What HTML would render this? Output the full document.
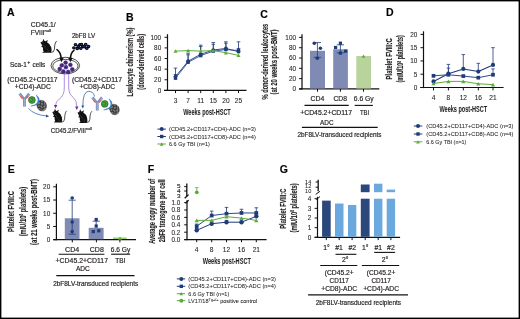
<!DOCTYPE html><html><head><meta charset="utf-8"><style>html,body{margin:0;padding:0;background:#fff;}svg{display:block;will-change:transform;}text{font-family:"Liberation Sans", sans-serif;stroke:#231f20;stroke-width:0.18px;}</style></head><body><svg width="520" height="319" viewBox="0 0 520 319"><rect width="520" height="319" fill="#fff"/><rect x="0" y="0" width="520" height="1.4" fill="#000"/>
<rect x="0" y="0" width="1.4" height="319" fill="#000"/>
<rect x="518.6" y="0" width="1.4" height="319" fill="#000"/>
<rect x="0" y="317.6" width="520" height="1.4" fill="#000"/>
<text x="7.00" y="15.70" font-size="10.5" fill="#000" font-weight="bold">A</text>
<text x="126.00" y="20.90" font-size="10.5" fill="#000" font-weight="bold">B</text>
<text x="260.20" y="18.30" font-size="10.5" fill="#000" font-weight="bold">C</text>
<text x="386.00" y="16.00" font-size="10.5" fill="#000" font-weight="bold">D</text>
<text x="7.70" y="172.70" font-size="10.5" fill="#000" font-weight="bold">E</text>
<text x="147.70" y="172.70" font-size="10.5" fill="#000" font-weight="bold">F</text>
<text x="279.80" y="173.20" font-size="10.5" fill="#000" font-weight="bold">G</text>
<line x1="167.50" y1="34.20" x2="167.50" y2="91.00" stroke="#111" stroke-width="1.2" />
<line x1="164.00" y1="90.40" x2="246.50" y2="90.40" stroke="#111" stroke-width="1.2" />
<line x1="164.60" y1="90.40" x2="167.50" y2="90.40" stroke="#111" stroke-width="1.0" />
<text x="161.20" y="92.70" font-size="6.4" fill="#231f20" text-anchor="end" style="stroke-width:0.08px">0</text>
<line x1="164.60" y1="79.78" x2="167.50" y2="79.78" stroke="#111" stroke-width="1.0" />
<text x="161.20" y="82.08" font-size="6.4" fill="#231f20" text-anchor="end" style="stroke-width:0.08px">20</text>
<line x1="164.60" y1="69.16" x2="167.50" y2="69.16" stroke="#111" stroke-width="1.0" />
<text x="161.20" y="71.46" font-size="6.4" fill="#231f20" text-anchor="end" style="stroke-width:0.08px">40</text>
<line x1="164.60" y1="58.54" x2="167.50" y2="58.54" stroke="#111" stroke-width="1.0" />
<text x="161.20" y="60.84" font-size="6.4" fill="#231f20" text-anchor="end" style="stroke-width:0.08px">60</text>
<line x1="164.60" y1="47.92" x2="167.50" y2="47.92" stroke="#111" stroke-width="1.0" />
<text x="161.20" y="50.22" font-size="6.4" fill="#231f20" text-anchor="end" style="stroke-width:0.08px">80</text>
<line x1="164.60" y1="37.30" x2="167.50" y2="37.30" stroke="#111" stroke-width="1.0" />
<text x="161.20" y="39.60" font-size="6.4" fill="#231f20" text-anchor="end" style="stroke-width:0.08px">100</text>
<line x1="175.50" y1="90.40" x2="175.50" y2="93.10" stroke="#111" stroke-width="1.0" />
<text x="175.50" y="102.50" font-size="6.6" fill="#231f20" text-anchor="middle" style="stroke-width:0.08px">3</text>
<line x1="188.10" y1="90.40" x2="188.10" y2="93.10" stroke="#111" stroke-width="1.0" />
<text x="188.10" y="102.50" font-size="6.6" fill="#231f20" text-anchor="middle" style="stroke-width:0.08px">7</text>
<line x1="200.70" y1="90.40" x2="200.70" y2="93.10" stroke="#111" stroke-width="1.0" />
<text x="200.70" y="102.50" font-size="6.6" fill="#231f20" text-anchor="middle" style="stroke-width:0.08px">11</text>
<line x1="213.30" y1="90.40" x2="213.30" y2="93.10" stroke="#111" stroke-width="1.0" />
<text x="213.30" y="102.50" font-size="6.6" fill="#231f20" text-anchor="middle" style="stroke-width:0.08px">15</text>
<line x1="225.90" y1="90.40" x2="225.90" y2="93.10" stroke="#111" stroke-width="1.0" />
<text x="225.90" y="102.50" font-size="6.6" fill="#231f20" text-anchor="middle" style="stroke-width:0.08px">20</text>
<line x1="238.50" y1="90.40" x2="238.50" y2="93.10" stroke="#111" stroke-width="1.0" />
<text x="238.50" y="102.50" font-size="6.6" fill="#231f20" text-anchor="middle" style="stroke-width:0.08px">25</text>
<text x="207.00" y="114.60" font-size="8.2" fill="#231f20" text-anchor="middle" textLength="47.5" lengthAdjust="spacingAndGlyphs" font-weight="bold" style="stroke-width:0.05px">Weeks post-HSCT</text>
<text transform="translate(132.60,62.00) rotate(-90)" x="0" y="0" font-size="9.73" fill="#231f20" text-anchor="middle" font-weight="bold" style="stroke-width:0.15px" textLength="69" lengthAdjust="spacingAndGlyphs">Leukocyte chimerism (%)</text>
<text transform="translate(144.40,61.80) rotate(-90)" x="0" y="0" font-size="9.73" fill="#231f20" text-anchor="middle" font-weight="bold" style="stroke-width:0.15px" textLength="55.7" lengthAdjust="spacingAndGlyphs">(donor-derived cells)</text>
<line x1="175.50" y1="76.59" x2="175.50" y2="68.10" stroke="#1f3b7a" stroke-width="0.8" />
<line x1="173.70" y1="68.10" x2="177.30" y2="68.10" stroke="#1f3b7a" stroke-width="0.8" />
<line x1="188.10" y1="61.20" x2="188.10" y2="53.23" stroke="#1f3b7a" stroke-width="0.8" />
<line x1="186.30" y1="53.23" x2="189.90" y2="53.23" stroke="#1f3b7a" stroke-width="0.8" />
<line x1="200.70" y1="54.29" x2="200.70" y2="45.11" stroke="#1f3b7a" stroke-width="0.8" />
<line x1="198.90" y1="45.11" x2="202.50" y2="45.11" stroke="#1f3b7a" stroke-width="0.8" />
<line x1="213.30" y1="50.04" x2="213.30" y2="42.50" stroke="#1f3b7a" stroke-width="0.8" />
<line x1="211.50" y1="42.50" x2="215.10" y2="42.50" stroke="#1f3b7a" stroke-width="0.8" />
<line x1="225.90" y1="48.45" x2="225.90" y2="41.81" stroke="#1f3b7a" stroke-width="0.8" />
<line x1="224.10" y1="41.81" x2="227.70" y2="41.81" stroke="#1f3b7a" stroke-width="0.8" />
<line x1="238.50" y1="51.64" x2="238.50" y2="41.81" stroke="#1f3b7a" stroke-width="0.8" />
<line x1="236.70" y1="41.81" x2="240.30" y2="41.81" stroke="#1f3b7a" stroke-width="0.8" />
<line x1="175.50" y1="78.19" x2="175.50" y2="74.47" stroke="#1f3b7a" stroke-width="0.8" />
<line x1="173.70" y1="74.47" x2="177.30" y2="74.47" stroke="#1f3b7a" stroke-width="0.8" />
<line x1="188.10" y1="62.26" x2="188.10" y2="54.82" stroke="#1f3b7a" stroke-width="0.8" />
<line x1="186.30" y1="54.82" x2="189.90" y2="54.82" stroke="#1f3b7a" stroke-width="0.8" />
<line x1="200.70" y1="55.62" x2="200.70" y2="46.49" stroke="#1f3b7a" stroke-width="0.8" />
<line x1="198.90" y1="46.49" x2="202.50" y2="46.49" stroke="#1f3b7a" stroke-width="0.8" />
<line x1="213.30" y1="51.11" x2="213.30" y2="44.31" stroke="#1f3b7a" stroke-width="0.8" />
<line x1="211.50" y1="44.31" x2="215.10" y2="44.31" stroke="#1f3b7a" stroke-width="0.8" />
<line x1="225.90" y1="49.51" x2="225.90" y2="43.19" stroke="#1f3b7a" stroke-width="0.8" />
<line x1="224.10" y1="43.19" x2="227.70" y2="43.19" stroke="#1f3b7a" stroke-width="0.8" />
<line x1="238.50" y1="50.58" x2="238.50" y2="48.45" stroke="#1f3b7a" stroke-width="0.8" />
<line x1="236.70" y1="48.45" x2="240.30" y2="48.45" stroke="#1f3b7a" stroke-width="0.8" />
<polyline points="175.50,76.59 188.10,61.20 200.70,54.29 213.30,50.04 225.90,48.45 238.50,51.64" fill="none" stroke="#1f3b7a" stroke-width="0.9" stroke-linejoin="round"/>
<polyline points="175.50,78.19 188.10,62.26 200.70,55.62 213.30,51.11 225.90,49.51 238.50,50.58" fill="none" stroke="#2a4a8c" stroke-width="0.9" stroke-linejoin="round"/>
<circle cx="175.50" cy="76.59" r="1.9" fill="#1f3b7a"/>
<circle cx="188.10" cy="61.20" r="1.9" fill="#1f3b7a"/>
<circle cx="200.70" cy="54.29" r="1.9" fill="#1f3b7a"/>
<circle cx="213.30" cy="50.04" r="1.9" fill="#1f3b7a"/>
<circle cx="225.90" cy="48.45" r="1.9" fill="#1f3b7a"/>
<circle cx="238.50" cy="51.64" r="1.9" fill="#1f3b7a"/>
<rect x="173.80" y="76.49" width="3.4" height="3.4" fill="#1f3b7a"/>
<rect x="186.40" y="60.56" width="3.4" height="3.4" fill="#1f3b7a"/>
<rect x="199.00" y="53.92" width="3.4" height="3.4" fill="#1f3b7a"/>
<rect x="211.60" y="49.41" width="3.4" height="3.4" fill="#1f3b7a"/>
<rect x="224.20" y="47.81" width="3.4" height="3.4" fill="#1f3b7a"/>
<rect x="236.80" y="48.88" width="3.4" height="3.4" fill="#1f3b7a"/>
<polyline points="175.50,51.11 188.10,50.58 200.70,51.11 213.30,50.58 225.90,52.70 238.50,55.35" fill="none" stroke="#5cab3c" stroke-width="1.0" stroke-linejoin="round"/>
<polygon points="173.50,52.85 177.50,52.85 175.50,49.37" fill="#5cab3c"/>
<polygon points="186.10,52.32 190.10,52.32 188.10,48.84" fill="#5cab3c"/>
<polygon points="198.70,52.85 202.70,52.85 200.70,49.37" fill="#5cab3c"/>
<polygon points="211.30,52.32 215.30,52.32 213.30,48.84" fill="#5cab3c"/>
<polygon points="223.90,54.44 227.90,54.44 225.90,50.96" fill="#5cab3c"/>
<polygon points="236.50,57.09 240.50,57.09 238.50,53.61" fill="#5cab3c"/>
<line x1="157.40" y1="129.10" x2="165.90" y2="129.10" stroke="#1f3b7a" stroke-width="1.0" />
<circle cx="161.70" cy="129.10" r="2.0" fill="#1f3b7a"/>
<text x="169.00" y="131.10" font-size="6.0" fill="#231f20" textLength="86.8" lengthAdjust="spacingAndGlyphs" style="stroke-width:0.06px">(CD45.2+CD117+CD4)-ADC (n=3)</text>
<line x1="157.40" y1="136.50" x2="165.90" y2="136.50" stroke="#1f3b7a" stroke-width="1.0" />
<rect x="160.00" y="134.80" width="3.4" height="3.4" fill="#1f3b7a"/>
<text x="169.00" y="138.50" font-size="6.0" fill="#231f20" textLength="86.8" lengthAdjust="spacingAndGlyphs" style="stroke-width:0.06px">(CD45.2+CD117+CD8)-ADC (n=4)</text>
<line x1="157.40" y1="144.00" x2="165.90" y2="144.00" stroke="#5cab3c" stroke-width="1.0" />
<polygon points="159.80,145.65 163.60,145.65 161.70,142.35" fill="#5cab3c"/>
<text x="169.00" y="146.00" font-size="6.0" fill="#231f20" textLength="40.9" lengthAdjust="spacingAndGlyphs" style="stroke-width:0.06px">6.6 Gy TBI (n=1)</text>
<line x1="302.00" y1="34.20" x2="302.00" y2="89.50" stroke="#111" stroke-width="1.25" />
<line x1="299.00" y1="88.95" x2="379.30" y2="88.95" stroke="#111" stroke-width="1.25" />
<line x1="299.10" y1="88.95" x2="302.00" y2="88.95" stroke="#111" stroke-width="1.0" />
<text x="296.00" y="91.25" font-size="6.4" fill="#231f20" text-anchor="end" style="stroke-width:0.08px">0</text>
<line x1="299.10" y1="78.64" x2="302.00" y2="78.64" stroke="#111" stroke-width="1.0" />
<text x="296.00" y="80.94" font-size="6.4" fill="#231f20" text-anchor="end" style="stroke-width:0.08px">20</text>
<line x1="299.10" y1="68.33" x2="302.00" y2="68.33" stroke="#111" stroke-width="1.0" />
<text x="296.00" y="70.63" font-size="6.4" fill="#231f20" text-anchor="end" style="stroke-width:0.08px">40</text>
<line x1="299.10" y1="58.02" x2="302.00" y2="58.02" stroke="#111" stroke-width="1.0" />
<text x="296.00" y="60.32" font-size="6.4" fill="#231f20" text-anchor="end" style="stroke-width:0.08px">60</text>
<line x1="299.10" y1="47.71" x2="302.00" y2="47.71" stroke="#111" stroke-width="1.0" />
<text x="296.00" y="50.01" font-size="6.4" fill="#231f20" text-anchor="end" style="stroke-width:0.08px">80</text>
<line x1="299.10" y1="37.40" x2="302.00" y2="37.40" stroke="#111" stroke-width="1.0" />
<text x="296.00" y="39.70" font-size="6.4" fill="#231f20" text-anchor="end" style="stroke-width:0.08px">100</text>
<rect x="310.00" y="50.80" width="15.00" height="37.65" fill="#808bb4"/>
<rect x="333.20" y="49.26" width="14.70" height="39.19" fill="#808bb4"/>
<rect x="356.30" y="55.96" width="14.70" height="32.49" fill="#b8d49c"/>
<line x1="317.50" y1="88.95" x2="317.50" y2="91.70" stroke="#111" stroke-width="1.0" />
<line x1="340.40" y1="88.95" x2="340.40" y2="91.70" stroke="#111" stroke-width="1.0" />
<line x1="363.50" y1="88.95" x2="363.50" y2="91.70" stroke="#111" stroke-width="1.0" />
<line x1="317.40" y1="57.30" x2="317.40" y2="42.60" stroke="#1f3b7a" stroke-width="0.8" />
<line x1="313.80" y1="42.60" x2="321.00" y2="42.60" stroke="#1f3b7a" stroke-width="0.8" />
<line x1="313.70" y1="57.30" x2="321.20" y2="57.30" stroke="#1f3b7a" stroke-width="0.8" />
<circle cx="314.30" cy="43.20" r="1.8" fill="#1f3b7a"/>
<circle cx="320.40" cy="48.30" r="1.8" fill="#1f3b7a"/>
<circle cx="317.30" cy="58.30" r="1.8" fill="#1f3b7a"/>
<line x1="340.40" y1="52.80" x2="340.40" y2="44.80" stroke="#1f3b7a" stroke-width="0.8" />
<line x1="336.80" y1="44.80" x2="344.00" y2="44.80" stroke="#1f3b7a" stroke-width="0.8" />
<line x1="336.80" y1="52.80" x2="344.00" y2="52.80" stroke="#1f3b7a" stroke-width="0.8" />
<rect x="338.80" y="41.60" width="3.2" height="3.2" fill="#1f3b7a"/>
<rect x="334.00" y="45.90" width="3.2" height="3.2" fill="#1f3b7a"/>
<rect x="344.00" y="49.60" width="3.2" height="3.2" fill="#1f3b7a"/>
<rect x="338.80" y="51.50" width="3.2" height="3.2" fill="#1f3b7a"/>
<polygon points="361.60,57.85 365.40,57.85 363.50,54.55" fill="#5cab3c"/>
<text transform="translate(267.60,61.60) rotate(-90)" x="0" y="0" font-size="9.47" fill="#231f20" text-anchor="middle" font-weight="bold" style="stroke-width:0.15px" textLength="75.7" lengthAdjust="spacingAndGlyphs">% donor-derived leukocytes</text>
<text transform="translate(276.80,62.00) rotate(-90)" x="0" y="0" font-size="9.47" fill="#231f20" text-anchor="middle" font-weight="bold" style="stroke-width:0.15px" textLength="65" lengthAdjust="spacingAndGlyphs">(at 20 weeks post-BMT)</text>
<text x="317.50" y="100.90" font-size="6.9" fill="#231f20" text-anchor="middle" textLength="13.8" lengthAdjust="spacingAndGlyphs">CD4</text>
<text x="340.20" y="100.90" font-size="6.9" fill="#231f20" text-anchor="middle" textLength="13.5" lengthAdjust="spacingAndGlyphs">CD8</text>
<text x="363.70" y="100.90" font-size="6.9" fill="#231f20" text-anchor="middle" textLength="19.9" lengthAdjust="spacingAndGlyphs">6.6 Gy</text>
<line x1="304.50" y1="105.40" x2="348.70" y2="105.40" stroke="#111" stroke-width="1.1" />
<line x1="354.70" y1="105.40" x2="372.90" y2="105.40" stroke="#111" stroke-width="1.1" />
<text x="326.20" y="114.80" font-size="6.9" fill="#231f20" text-anchor="middle" textLength="51.9" lengthAdjust="spacingAndGlyphs">+CD45.2+CD117</text>
<text x="364.50" y="114.80" font-size="6.9" fill="#231f20" text-anchor="middle" textLength="9.2" lengthAdjust="spacingAndGlyphs">TBI</text>
<text x="326.80" y="125.00" font-size="6.9" fill="#231f20" text-anchor="middle" textLength="13.6" lengthAdjust="spacingAndGlyphs">ADC</text>
<line x1="301.90" y1="127.40" x2="377.70" y2="127.40" stroke="#111" stroke-width="1.1" />
<text x="339.50" y="137.00" font-size="6.3" fill="#231f20" text-anchor="middle" textLength="83.9" lengthAdjust="spacingAndGlyphs">2bF8LV-transduced recipients</text>
<line x1="423.50" y1="31.30" x2="423.50" y2="88.10" stroke="#111" stroke-width="1.2" />
<line x1="420.20" y1="87.50" x2="503.60" y2="87.50" stroke="#111" stroke-width="1.2" />
<line x1="420.50" y1="87.50" x2="423.50" y2="87.50" stroke="#111" stroke-width="1.0" />
<text x="417.30" y="89.80" font-size="6.4" fill="#231f20" text-anchor="end" style="stroke-width:0.08px">0</text>
<line x1="420.50" y1="74.22" x2="423.50" y2="74.22" stroke="#111" stroke-width="1.0" />
<text x="417.30" y="76.52" font-size="6.4" fill="#231f20" text-anchor="end" style="stroke-width:0.08px">5</text>
<line x1="420.50" y1="60.95" x2="423.50" y2="60.95" stroke="#111" stroke-width="1.0" />
<text x="417.30" y="63.25" font-size="6.4" fill="#231f20" text-anchor="end" style="stroke-width:0.08px">10</text>
<line x1="420.50" y1="47.68" x2="423.50" y2="47.68" stroke="#111" stroke-width="1.0" />
<text x="417.30" y="49.98" font-size="6.4" fill="#231f20" text-anchor="end" style="stroke-width:0.08px">15</text>
<line x1="420.50" y1="34.40" x2="423.50" y2="34.40" stroke="#111" stroke-width="1.0" />
<text x="417.30" y="36.70" font-size="6.4" fill="#231f20" text-anchor="end" style="stroke-width:0.08px">20</text>
<line x1="433.50" y1="87.50" x2="433.50" y2="90.40" stroke="#111" stroke-width="1.0" />
<text x="433.50" y="99.90" font-size="6.6" fill="#231f20" text-anchor="middle" style="stroke-width:0.08px">4</text>
<line x1="448.40" y1="87.50" x2="448.40" y2="90.40" stroke="#111" stroke-width="1.0" />
<text x="448.40" y="99.90" font-size="6.6" fill="#231f20" text-anchor="middle" style="stroke-width:0.08px">8</text>
<line x1="463.30" y1="87.50" x2="463.30" y2="90.40" stroke="#111" stroke-width="1.0" />
<text x="463.30" y="99.90" font-size="6.6" fill="#231f20" text-anchor="middle" style="stroke-width:0.08px">12</text>
<line x1="478.30" y1="87.50" x2="478.30" y2="90.40" stroke="#111" stroke-width="1.0" />
<text x="478.30" y="99.90" font-size="6.6" fill="#231f20" text-anchor="middle" style="stroke-width:0.08px">16</text>
<line x1="493.00" y1="87.50" x2="493.00" y2="90.40" stroke="#111" stroke-width="1.0" />
<text x="493.00" y="99.90" font-size="6.6" fill="#231f20" text-anchor="middle" style="stroke-width:0.08px">21</text>
<text x="463.30" y="111.80" font-size="8.2" fill="#231f20" text-anchor="middle" textLength="47.8" lengthAdjust="spacingAndGlyphs" font-weight="bold" style="stroke-width:0.05px">Weeks post-HSCT</text>
<text transform="translate(392.40,58.80) rotate(-90)" x="0" y="0" font-size="9.22" fill="#231f20" text-anchor="middle" font-weight="bold" style="stroke-width:0.15px" textLength="41.2" lengthAdjust="spacingAndGlyphs">Platelet FVIII:C</text>
<text transform="translate(403.20,58.80) rotate(-90)" x="0" y="0" font-size="8.96" fill="#231f20" text-anchor="middle" font-weight="bold" style="stroke-width:0.15px" textLength="47.5" lengthAdjust="spacingAndGlyphs">(mIU/10<tspan dy="-2.6" font-size="4.8">8</tspan><tspan dy="2.6"> platelets)</tspan></text>
<line x1="448.40" y1="73.69" x2="448.40" y2="64.40" stroke="#1f3b7a" stroke-width="0.8" />
<line x1="446.60" y1="64.40" x2="450.20" y2="64.40" stroke="#1f3b7a" stroke-width="0.8" />
<line x1="463.30" y1="68.92" x2="463.30" y2="54.58" stroke="#1f3b7a" stroke-width="0.8" />
<line x1="461.50" y1="54.58" x2="465.10" y2="54.58" stroke="#1f3b7a" stroke-width="0.8" />
<line x1="478.30" y1="71.57" x2="478.30" y2="63.34" stroke="#1f3b7a" stroke-width="0.8" />
<line x1="476.50" y1="63.34" x2="480.10" y2="63.34" stroke="#1f3b7a" stroke-width="0.8" />
<line x1="493.00" y1="64.93" x2="493.00" y2="47.68" stroke="#1f3b7a" stroke-width="0.8" />
<line x1="491.20" y1="47.68" x2="494.80" y2="47.68" stroke="#1f3b7a" stroke-width="0.8" />
<line x1="448.40" y1="74.76" x2="448.40" y2="68.12" stroke="#1f3b7a" stroke-width="0.8" />
<line x1="446.60" y1="68.12" x2="450.20" y2="68.12" stroke="#1f3b7a" stroke-width="0.8" />
<line x1="493.00" y1="74.76" x2="493.00" y2="68.92" stroke="#1f3b7a" stroke-width="0.8" />
<line x1="491.20" y1="68.92" x2="494.80" y2="68.92" stroke="#1f3b7a" stroke-width="0.8" />
<polyline points="433.50,83.52 448.40,81.39 463.30,81.39 478.30,83.78 493.00,84.58" fill="none" stroke="#5cab3c" stroke-width="1.0" stroke-linejoin="round"/>
<polyline points="433.50,81.39 448.40,73.69 463.30,68.92 478.30,71.57 493.00,64.93" fill="none" stroke="#1f3b7a" stroke-width="1.1" stroke-linejoin="round"/>
<polyline points="433.50,75.82 448.40,74.76 463.30,76.08 478.30,77.68 493.00,74.76" fill="none" stroke="#2a4a8c" stroke-width="1.0" stroke-linejoin="round"/>
<circle cx="433.50" cy="81.39" r="2.1" fill="#1f3b7a"/>
<circle cx="448.40" cy="73.69" r="2.1" fill="#1f3b7a"/>
<circle cx="463.30" cy="68.92" r="2.1" fill="#1f3b7a"/>
<circle cx="478.30" cy="71.57" r="2.1" fill="#1f3b7a"/>
<circle cx="493.00" cy="64.93" r="2.1" fill="#1f3b7a"/>
<rect x="431.65" y="73.97" width="3.7" height="3.7" fill="#1f3b7a"/>
<rect x="446.55" y="72.91" width="3.7" height="3.7" fill="#1f3b7a"/>
<rect x="461.45" y="74.23" width="3.7" height="3.7" fill="#1f3b7a"/>
<rect x="476.45" y="75.83" width="3.7" height="3.7" fill="#1f3b7a"/>
<rect x="491.15" y="72.91" width="3.7" height="3.7" fill="#1f3b7a"/>
<polygon points="431.40,85.34 435.60,85.34 433.50,81.69" fill="#5cab3c"/>
<polygon points="446.30,83.22 450.50,83.22 448.40,79.57" fill="#5cab3c"/>
<polygon points="461.20,83.22 465.40,83.22 463.30,79.57" fill="#5cab3c"/>
<polygon points="476.20,85.61 480.40,85.61 478.30,81.96" fill="#5cab3c"/>
<polygon points="490.90,86.41 495.10,86.41 493.00,82.75" fill="#5cab3c"/>
<line x1="413.80" y1="126.00" x2="422.30" y2="126.00" stroke="#1f3b7a" stroke-width="1.0" />
<circle cx="418.00" cy="126.00" r="2.0" fill="#1f3b7a"/>
<text x="426.30" y="128.00" font-size="6.0" fill="#231f20" textLength="87.1" lengthAdjust="spacingAndGlyphs" style="stroke-width:0.06px">(CD45.2+CD117+CD4)-ADC (n=3)</text>
<line x1="413.80" y1="134.00" x2="422.30" y2="134.00" stroke="#1f3b7a" stroke-width="1.0" />
<rect x="416.30" y="132.30" width="3.4" height="3.4" fill="#1f3b7a"/>
<text x="426.30" y="136.00" font-size="6.0" fill="#231f20" textLength="87.1" lengthAdjust="spacingAndGlyphs" style="stroke-width:0.06px">(CD45.2+CD117+CD8)-ADC (n=4)</text>
<line x1="413.80" y1="141.80" x2="422.30" y2="141.80" stroke="#5cab3c" stroke-width="1.0" />
<polygon points="416.10,143.45 419.90,143.45 418.00,140.15" fill="#5cab3c"/>
<text x="426.30" y="143.80" font-size="6.0" fill="#231f20" textLength="40.1" lengthAdjust="spacingAndGlyphs" style="stroke-width:0.06px">6.6 Gy TBI (n=1)</text>
<line x1="56.40" y1="183.80" x2="56.40" y2="240.30" stroke="#111" stroke-width="1.2" />
<line x1="53.20" y1="239.70" x2="136.00" y2="239.70" stroke="#111" stroke-width="1.2" />
<line x1="53.20" y1="239.70" x2="56.40" y2="239.70" stroke="#111" stroke-width="1.0" />
<text x="50.20" y="242.00" font-size="6.4" fill="#231f20" text-anchor="end" style="stroke-width:0.08px">0</text>
<line x1="53.20" y1="226.47" x2="56.40" y2="226.47" stroke="#111" stroke-width="1.0" />
<text x="50.20" y="228.78" font-size="6.4" fill="#231f20" text-anchor="end" style="stroke-width:0.08px">5</text>
<line x1="53.20" y1="213.25" x2="56.40" y2="213.25" stroke="#111" stroke-width="1.0" />
<text x="50.20" y="215.55" font-size="6.4" fill="#231f20" text-anchor="end" style="stroke-width:0.08px">10</text>
<line x1="53.20" y1="200.02" x2="56.40" y2="200.02" stroke="#111" stroke-width="1.0" />
<text x="50.20" y="202.32" font-size="6.4" fill="#231f20" text-anchor="end" style="stroke-width:0.08px">15</text>
<line x1="53.20" y1="186.80" x2="56.40" y2="186.80" stroke="#111" stroke-width="1.0" />
<text x="50.20" y="189.10" font-size="6.4" fill="#231f20" text-anchor="end" style="stroke-width:0.08px">20</text>
<rect x="64.80" y="218.28" width="14.70" height="20.92" fill="#808bb4"/>
<rect x="88.70" y="227.80" width="14.90" height="11.40" fill="#808bb4"/>
<rect x="113.00" y="237.50" width="13.60" height="1.40" fill="#8fce5c"/>
<line x1="72.30" y1="239.70" x2="72.30" y2="242.40" stroke="#111" stroke-width="1.0" />
<line x1="96.40" y1="239.70" x2="96.40" y2="242.40" stroke="#111" stroke-width="1.0" />
<line x1="119.90" y1="239.70" x2="119.90" y2="242.40" stroke="#111" stroke-width="1.0" />
<line x1="72.20" y1="234.20" x2="72.20" y2="200.20" stroke="#1f3b7a" stroke-width="0.8" />
<line x1="68.60" y1="200.20" x2="75.80" y2="200.20" stroke="#1f3b7a" stroke-width="0.8" />
<line x1="68.60" y1="234.20" x2="75.80" y2="234.20" stroke="#1f3b7a" stroke-width="0.8" />
<circle cx="72.20" cy="198.00" r="1.8" fill="#1f3b7a"/>
<circle cx="72.20" cy="222.00" r="1.8" fill="#1f3b7a"/>
<circle cx="72.20" cy="231.50" r="1.8" fill="#1f3b7a"/>
<line x1="96.20" y1="221.20" x2="96.20" y2="228.00" stroke="#1f3b7a" stroke-width="0.8" />
<line x1="92.60" y1="221.20" x2="99.80" y2="221.20" stroke="#1f3b7a" stroke-width="0.8" />
<rect x="94.60" y="217.90" width="3.2" height="3.2" fill="#1f3b7a"/>
<rect x="94.60" y="224.40" width="3.2" height="3.2" fill="#1f3b7a"/>
<rect x="91.70" y="230.00" width="3.2" height="3.2" fill="#1f3b7a"/>
<rect x="97.20" y="229.20" width="3.2" height="3.2" fill="#1f3b7a"/>
<polygon points="118.10,239.85 121.90,239.85 120.00,236.55" fill="#5cab3c"/>
<text transform="translate(14.00,211.50) rotate(-90)" x="0" y="0" font-size="9.22" fill="#231f20" text-anchor="middle" font-weight="bold" style="stroke-width:0.15px" textLength="40.9" lengthAdjust="spacingAndGlyphs">Platelet FVIII:C</text>
<text transform="translate(25.60,211.60) rotate(-90)" x="0" y="0" font-size="8.96" fill="#231f20" text-anchor="middle" font-weight="bold" style="stroke-width:0.15px" textLength="49.5" lengthAdjust="spacingAndGlyphs">(mIU/10<tspan dy="-2.6" font-size="4.8">8</tspan><tspan dy="2.6"> platelets)</tspan></text>
<text transform="translate(36.60,211.90) rotate(-90)" x="0" y="0" font-size="9.22" fill="#231f20" text-anchor="middle" font-weight="bold" style="stroke-width:0.15px" textLength="66" lengthAdjust="spacingAndGlyphs">(at 21 weeks post-BMT)</text>
<text x="72.20" y="251.80" font-size="6.9" fill="#231f20" text-anchor="middle" textLength="14.2" lengthAdjust="spacingAndGlyphs">CD4</text>
<text x="96.80" y="251.80" font-size="6.9" fill="#231f20" text-anchor="middle" textLength="14.0" lengthAdjust="spacingAndGlyphs">CD8</text>
<text x="120.50" y="251.80" font-size="6.9" fill="#231f20" text-anchor="middle" textLength="19.5" lengthAdjust="spacingAndGlyphs">6.6 Gy</text>
<line x1="58.70" y1="254.20" x2="104.40" y2="254.20" stroke="#111" stroke-width="1.1" />
<line x1="111.10" y1="254.20" x2="130.10" y2="254.20" stroke="#111" stroke-width="1.1" />
<text x="81.80" y="263.30" font-size="6.9" fill="#231f20" text-anchor="middle" textLength="52.4" lengthAdjust="spacingAndGlyphs">+CD45.2+CD117</text>
<text x="120.30" y="263.30" font-size="6.9" fill="#231f20" text-anchor="middle" textLength="10.1" lengthAdjust="spacingAndGlyphs">TBI</text>
<text x="82.90" y="271.20" font-size="6.9" fill="#231f20" text-anchor="middle" textLength="13.8" lengthAdjust="spacingAndGlyphs">ADC</text>
<line x1="56.30" y1="275.60" x2="134.50" y2="275.60" stroke="#111" stroke-width="1.1" />
<text x="95.70" y="285.70" font-size="6.3" fill="#231f20" text-anchor="middle" textLength="85.0" lengthAdjust="spacingAndGlyphs">2bF8LV-transduced recipients</text>
<line x1="187.00" y1="200.30" x2="187.00" y2="240.20" stroke="#111" stroke-width="1.25" />
<line x1="184.20" y1="239.60" x2="266.60" y2="239.60" stroke="#111" stroke-width="1.25" />
<line x1="184.20" y1="239.60" x2="187.00" y2="239.60" stroke="#111" stroke-width="1.0" />
<text x="180.30" y="241.90" font-size="6.4" fill="#231f20" text-anchor="end" style="stroke-width:0.08px">0.0</text>
<line x1="184.20" y1="232.20" x2="187.00" y2="232.20" stroke="#111" stroke-width="1.0" />
<text x="180.30" y="234.50" font-size="6.4" fill="#231f20" text-anchor="end" style="stroke-width:0.08px">0.2</text>
<line x1="184.20" y1="224.80" x2="187.00" y2="224.80" stroke="#111" stroke-width="1.0" />
<text x="180.30" y="227.10" font-size="6.4" fill="#231f20" text-anchor="end" style="stroke-width:0.08px">0.4</text>
<line x1="184.20" y1="217.40" x2="187.00" y2="217.40" stroke="#111" stroke-width="1.0" />
<text x="180.30" y="219.70" font-size="6.4" fill="#231f20" text-anchor="end" style="stroke-width:0.08px">0.6</text>
<line x1="184.20" y1="210.00" x2="187.00" y2="210.00" stroke="#111" stroke-width="1.0" />
<text x="180.30" y="212.30" font-size="6.4" fill="#231f20" text-anchor="end" style="stroke-width:0.08px">0.8</text>
<line x1="184.20" y1="202.60" x2="187.00" y2="202.60" stroke="#111" stroke-width="1.0" />
<text x="180.30" y="204.90" font-size="6.4" fill="#231f20" text-anchor="end" style="stroke-width:0.08px">1.0</text>
<line x1="186.80" y1="183.60" x2="186.80" y2="196.60" stroke="#111" stroke-width="1.3" />
<line x1="184.20" y1="186.60" x2="186.80" y2="186.60" stroke="#111" stroke-width="1.0" />
<line x1="184.20" y1="191.00" x2="186.80" y2="191.00" stroke="#111" stroke-width="1.0" />
<text x="178.8" y="235.38" font-size="6.4" fill="#231f20" text-anchor="middle" transform="scale(1,0.8)">5</text>
<text x="178.8" y="240.75" font-size="6.4" fill="#231f20" text-anchor="middle" transform="scale(1,0.8)">4</text>
<text x="178.8" y="247.12" font-size="6.4" fill="#231f20" text-anchor="middle" transform="scale(1,0.8)">3</text>
<line x1="184.70" y1="198.30" x2="188.60" y2="194.60" stroke="#111" stroke-width="1.3" />
<line x1="185.50" y1="203.40" x2="188.60" y2="200.30" stroke="#111" stroke-width="1.3" />
<line x1="196.70" y1="239.60" x2="196.70" y2="242.20" stroke="#111" stroke-width="1.0" />
<text x="196.70" y="251.90" font-size="6.6" fill="#231f20" text-anchor="middle" style="stroke-width:0.08px">4</text>
<line x1="211.70" y1="239.60" x2="211.70" y2="242.20" stroke="#111" stroke-width="1.0" />
<text x="211.70" y="251.90" font-size="6.6" fill="#231f20" text-anchor="middle" style="stroke-width:0.08px">8</text>
<line x1="226.50" y1="239.60" x2="226.50" y2="242.20" stroke="#111" stroke-width="1.0" />
<text x="226.50" y="251.90" font-size="6.6" fill="#231f20" text-anchor="middle" style="stroke-width:0.08px">12</text>
<line x1="241.50" y1="239.60" x2="241.50" y2="242.20" stroke="#111" stroke-width="1.0" />
<text x="241.50" y="251.90" font-size="6.6" fill="#231f20" text-anchor="middle" style="stroke-width:0.08px">16</text>
<line x1="256.30" y1="239.60" x2="256.30" y2="242.20" stroke="#111" stroke-width="1.0" />
<text x="256.30" y="251.90" font-size="6.6" fill="#231f20" text-anchor="middle" style="stroke-width:0.08px">21</text>
<text x="226.80" y="264.40" font-size="8.2" fill="#231f20" text-anchor="middle" textLength="48.1" lengthAdjust="spacingAndGlyphs" font-weight="bold" style="stroke-width:0.05px">Weeks post-HSCT</text>
<text transform="translate(155.00,211.30) rotate(-90)" x="0" y="0" font-size="9.22" fill="#231f20" text-anchor="middle" font-weight="bold" style="stroke-width:0.15px" textLength="65" lengthAdjust="spacingAndGlyphs">Average copy number of</text>
<text transform="translate(165.10,210.80) rotate(-90)" x="0" y="0" font-size="9.22" fill="#231f20" text-anchor="middle" font-weight="bold" style="stroke-width:0.15px" textLength="62.7" lengthAdjust="spacingAndGlyphs">2bF8 transgene per cell</text>
<line x1="196.70" y1="226.28" x2="196.70" y2="224.06" stroke="#1f3b7a" stroke-width="0.8" />
<line x1="194.90" y1="224.06" x2="198.50" y2="224.06" stroke="#1f3b7a" stroke-width="0.8" />
<line x1="211.70" y1="215.55" x2="211.70" y2="211.11" stroke="#1f3b7a" stroke-width="0.8" />
<line x1="209.90" y1="211.11" x2="213.50" y2="211.11" stroke="#1f3b7a" stroke-width="0.8" />
<line x1="226.50" y1="213.70" x2="226.50" y2="207.41" stroke="#1f3b7a" stroke-width="0.8" />
<line x1="224.70" y1="207.41" x2="228.30" y2="207.41" stroke="#1f3b7a" stroke-width="0.8" />
<line x1="241.50" y1="212.96" x2="241.50" y2="209.26" stroke="#1f3b7a" stroke-width="0.8" />
<line x1="239.70" y1="209.26" x2="243.30" y2="209.26" stroke="#1f3b7a" stroke-width="0.8" />
<line x1="256.30" y1="212.96" x2="256.30" y2="207.78" stroke="#1f3b7a" stroke-width="0.8" />
<line x1="254.50" y1="207.78" x2="258.10" y2="207.78" stroke="#1f3b7a" stroke-width="0.8" />
<line x1="196.70" y1="230.35" x2="196.70" y2="228.50" stroke="#1f3b7a" stroke-width="0.8" />
<line x1="194.90" y1="228.50" x2="198.50" y2="228.50" stroke="#1f3b7a" stroke-width="0.8" />
<line x1="211.70" y1="223.69" x2="211.70" y2="221.10" stroke="#1f3b7a" stroke-width="0.8" />
<line x1="209.90" y1="221.10" x2="213.50" y2="221.10" stroke="#1f3b7a" stroke-width="0.8" />
<line x1="226.50" y1="222.21" x2="226.50" y2="220.36" stroke="#1f3b7a" stroke-width="0.8" />
<line x1="224.70" y1="220.36" x2="228.30" y2="220.36" stroke="#1f3b7a" stroke-width="0.8" />
<line x1="241.50" y1="222.21" x2="241.50" y2="221.10" stroke="#1f3b7a" stroke-width="0.8" />
<line x1="239.70" y1="221.10" x2="243.30" y2="221.10" stroke="#1f3b7a" stroke-width="0.8" />
<line x1="256.30" y1="216.29" x2="256.30" y2="213.70" stroke="#1f3b7a" stroke-width="0.8" />
<line x1="254.50" y1="213.70" x2="258.10" y2="213.70" stroke="#1f3b7a" stroke-width="0.8" />
<polyline points="196.70,230.35 211.70,223.69 226.50,222.21 241.50,222.21 256.30,216.29" fill="none" stroke="#1f3b7a" stroke-width="1.0" stroke-linejoin="round"/>
<polyline points="196.70,226.28 211.70,215.55 226.50,213.70 241.50,212.96 256.30,212.96" fill="none" stroke="#2a4a8c" stroke-width="1.0" stroke-linejoin="round"/>
<circle cx="196.70" cy="230.35" r="2.2" fill="#1f3b7a"/>
<circle cx="211.70" cy="223.69" r="2.2" fill="#1f3b7a"/>
<circle cx="226.50" cy="222.21" r="2.2" fill="#1f3b7a"/>
<circle cx="241.50" cy="222.21" r="2.2" fill="#1f3b7a"/>
<circle cx="256.30" cy="216.29" r="2.2" fill="#1f3b7a"/>
<rect x="194.85" y="224.43" width="3.7" height="3.7" fill="#1f3b7a"/>
<rect x="209.85" y="213.70" width="3.7" height="3.7" fill="#1f3b7a"/>
<rect x="224.65" y="211.85" width="3.7" height="3.7" fill="#1f3b7a"/>
<rect x="239.65" y="211.11" width="3.7" height="3.7" fill="#1f3b7a"/>
<rect x="254.45" y="211.11" width="3.7" height="3.7" fill="#1f3b7a"/>
<polyline points="196.70,220.36 211.70,220.36 226.50,216.66 241.50,218.14 256.30,220.36" fill="none" stroke="#5cab3c" stroke-width="1.0" stroke-linejoin="round"/>
<polygon points="194.55,222.23 198.85,222.23 196.70,218.49" fill="#5cab3c"/>
<polygon points="209.55,222.23 213.85,222.23 211.70,218.49" fill="#5cab3c"/>
<polygon points="224.35,218.53 228.65,218.53 226.50,214.79" fill="#5cab3c"/>
<polygon points="239.35,220.01 243.65,220.01 241.50,216.27" fill="#5cab3c"/>
<polygon points="254.15,222.23 258.45,222.23 256.30,218.49" fill="#5cab3c"/>
<line x1="196.80" y1="192.30" x2="196.80" y2="187.60" stroke="#5cab3c" stroke-width="0.8" />
<line x1="195.00" y1="187.60" x2="198.60" y2="187.60" stroke="#5cab3c" stroke-width="0.8" />
<circle cx="196.80" cy="192.30" r="1.9" fill="#5cab3c"/>
<line x1="176.80" y1="278.90" x2="185.20" y2="278.90" stroke="#1f3b7a" stroke-width="1.0" />
<circle cx="181.30" cy="278.90" r="2.0" fill="#1f3b7a"/>
<text x="188.30" y="280.90" font-size="6.0" fill="#231f20" textLength="87.6" lengthAdjust="spacingAndGlyphs" style="stroke-width:0.06px">(CD45.2+CD117+CD4)-ADC (n=3)</text>
<line x1="176.80" y1="286.30" x2="185.20" y2="286.30" stroke="#1f3b7a" stroke-width="1.0" />
<rect x="179.60" y="284.60" width="3.4" height="3.4" fill="#1f3b7a"/>
<text x="188.30" y="288.30" font-size="6.0" fill="#231f20" textLength="87.6" lengthAdjust="spacingAndGlyphs" style="stroke-width:0.06px">(CD45.2+CD117+CD8)-ADC (n=4)</text>
<line x1="176.80" y1="293.70" x2="185.20" y2="293.70" stroke="#5cab3c" stroke-width="1.0" />
<polygon points="179.40,295.35 183.20,295.35 181.30,292.05" fill="#5cab3c"/>
<text x="188.30" y="295.70" font-size="6.0" fill="#231f20" textLength="41.0" lengthAdjust="spacingAndGlyphs" style="stroke-width:0.06px">6.6 Gy TBI (n=1)</text>
<line x1="176.80" y1="300.70" x2="185.20" y2="300.70" stroke="#5cab3c" stroke-width="1.0" />
<circle cx="181.30" cy="300.70" r="2.0" fill="#5cab3c"/>
<text x="188.3" y="302.7" font-size="6.0" fill="#231f20" style="stroke-width:0.06px" textLength="68.8" lengthAdjust="spacingAndGlyphs">LV17/18<tspan dy="-2.2" font-size="4.2">Tg+/+</tspan><tspan dy="2.2"> positive control</tspan></text>
<line x1="317.50" y1="196.80" x2="317.50" y2="237.90" stroke="#111" stroke-width="1.2" />
<line x1="314.60" y1="237.30" x2="400.10" y2="237.30" stroke="#111" stroke-width="1.2" />
<line x1="314.60" y1="237.30" x2="317.50" y2="237.30" stroke="#111" stroke-width="1.0" />
<text x="311.30" y="239.60" font-size="6.4" fill="#231f20" text-anchor="end" style="stroke-width:0.08px">0</text>
<line x1="314.60" y1="227.65" x2="317.50" y2="227.65" stroke="#111" stroke-width="1.0" />
<text x="311.30" y="229.95" font-size="6.4" fill="#231f20" text-anchor="end" style="stroke-width:0.08px">1</text>
<line x1="314.60" y1="218.00" x2="317.50" y2="218.00" stroke="#111" stroke-width="1.0" />
<text x="311.30" y="220.30" font-size="6.4" fill="#231f20" text-anchor="end" style="stroke-width:0.08px">2</text>
<line x1="314.60" y1="208.35" x2="317.50" y2="208.35" stroke="#111" stroke-width="1.0" />
<text x="311.30" y="210.65" font-size="6.4" fill="#231f20" text-anchor="end" style="stroke-width:0.08px">3</text>
<line x1="314.60" y1="198.70" x2="317.50" y2="198.70" stroke="#111" stroke-width="1.0" />
<text x="311.30" y="201.00" font-size="6.4" fill="#231f20" text-anchor="end" style="stroke-width:0.08px">4</text>
<line x1="318.20" y1="179.80" x2="318.20" y2="191.30" stroke="#111" stroke-width="1.3" />
<line x1="315.60" y1="182.00" x2="318.20" y2="182.00" stroke="#111" stroke-width="1.0" />
<line x1="315.60" y1="187.20" x2="318.20" y2="187.20" stroke="#111" stroke-width="1.0" />
<text x="308.2" y="214.30" font-size="5.6" fill="#231f20" text-anchor="middle" transform="scale(1,0.86)" style="stroke-width:0.05px">14</text>
<text x="308.2" y="219.07" font-size="5.6" fill="#231f20" text-anchor="middle" transform="scale(1,0.86)" style="stroke-width:0.05px">12</text>
<text x="308.2" y="223.95" font-size="5.6" fill="#231f20" text-anchor="middle" transform="scale(1,0.86)" style="stroke-width:0.05px">10</text>
<line x1="315.70" y1="194.40" x2="320.00" y2="191.30" stroke="#111" stroke-width="1.0" />
<line x1="316.30" y1="199.50" x2="320.00" y2="196.60" stroke="#111" stroke-width="1.0" />
<rect x="322.10" y="200.63" width="8.60" height="36.17" fill="#2b487d"/>
<rect x="335.00" y="203.53" width="8.50" height="33.28" fill="#6aa8de"/>
<rect x="348.00" y="204.97" width="8.30" height="31.83" fill="#6aa8de"/>
<rect x="360.80" y="198.70" width="8.80" height="38.10" fill="#2b487d"/>
<rect x="360.80" y="184.50" width="8.80" height="7.70" fill="#2b487d"/>
<rect x="374.00" y="198.70" width="8.40" height="38.10" fill="#6aa8de"/>
<rect x="374.00" y="183.70" width="8.40" height="8.50" fill="#6aa8de"/>
<rect x="386.70" y="198.70" width="8.40" height="38.10" fill="#6aa8de"/>
<rect x="386.70" y="189.60" width="8.40" height="2.60" fill="#6aa8de"/>
<line x1="326.30" y1="237.30" x2="326.30" y2="240.10" stroke="#111" stroke-width="1.0" />
<line x1="339.20" y1="237.30" x2="339.20" y2="240.10" stroke="#111" stroke-width="1.0" />
<line x1="352.10" y1="237.30" x2="352.10" y2="240.10" stroke="#111" stroke-width="1.0" />
<line x1="365.20" y1="237.30" x2="365.20" y2="240.10" stroke="#111" stroke-width="1.0" />
<line x1="378.20" y1="237.30" x2="378.20" y2="240.10" stroke="#111" stroke-width="1.0" />
<line x1="390.90" y1="237.30" x2="390.90" y2="240.10" stroke="#111" stroke-width="1.0" />
<text x="326.60" y="249.80" font-size="6.8" fill="#231f20" text-anchor="middle">1°</text>
<text x="339.00" y="249.80" font-size="6.8" fill="#231f20" text-anchor="middle">#1</text>
<text x="352.20" y="249.80" font-size="6.8" fill="#231f20" text-anchor="middle">#2</text>
<text x="365.20" y="249.80" font-size="6.8" fill="#231f20" text-anchor="middle">1°</text>
<text x="378.20" y="249.80" font-size="6.8" fill="#231f20" text-anchor="middle">#1</text>
<text x="390.90" y="249.80" font-size="6.8" fill="#231f20" text-anchor="middle">#2</text>
<line x1="335.50" y1="254.30" x2="356.40" y2="254.30" stroke="#111" stroke-width="1.1" />
<line x1="374.20" y1="252.40" x2="395.10" y2="252.40" stroke="#111" stroke-width="1.1" />
<text x="345.30" y="261.60" font-size="6.8" fill="#231f20" text-anchor="middle">2°</text>
<text x="384.90" y="261.60" font-size="6.8" fill="#231f20" text-anchor="middle">2°</text>
<line x1="320.20" y1="265.50" x2="357.30" y2="265.50" stroke="#111" stroke-width="1.1" />
<line x1="361.90" y1="265.50" x2="399.20" y2="265.50" stroke="#111" stroke-width="1.1" />
<text x="339.20" y="274.90" font-size="6.9" fill="#231f20" text-anchor="middle" textLength="29.0" lengthAdjust="spacingAndGlyphs">(CD45.2+</text>
<text x="339.20" y="282.50" font-size="6.9" fill="#231f20" text-anchor="middle" textLength="19.2" lengthAdjust="spacingAndGlyphs">CD117</text>
<text x="339.20" y="290.90" font-size="6.9" fill="#231f20" text-anchor="middle" textLength="35.8" lengthAdjust="spacingAndGlyphs">+CD8)-ADC</text>
<text x="381.10" y="274.90" font-size="6.9" fill="#231f20" text-anchor="middle" textLength="28.5" lengthAdjust="spacingAndGlyphs">(CD45.2+</text>
<text x="381.10" y="282.50" font-size="6.9" fill="#231f20" text-anchor="middle" textLength="19.4" lengthAdjust="spacingAndGlyphs">CD117</text>
<text x="381.10" y="290.90" font-size="6.9" fill="#231f20" text-anchor="middle" textLength="35.8" lengthAdjust="spacingAndGlyphs">+CD4)-ADC</text>
<line x1="308.10" y1="294.90" x2="408.00" y2="294.90" stroke="#111" stroke-width="1.1" />
<text x="358.40" y="304.60" font-size="6.3" fill="#231f20" text-anchor="middle" textLength="85.4" lengthAdjust="spacingAndGlyphs">2bF8LV-transduced recipients</text>
<text transform="translate(285.90,208.70) rotate(-90)" x="0" y="0" font-size="9.22" fill="#231f20" text-anchor="middle" font-weight="bold" style="stroke-width:0.15px" textLength="40.2" lengthAdjust="spacingAndGlyphs">Platelet FVIII:C</text>
<text transform="translate(296.60,207.90) rotate(-90)" x="0" y="0" font-size="8.96" fill="#231f20" text-anchor="middle" font-weight="bold" style="stroke-width:0.15px" textLength="49.2" lengthAdjust="spacingAndGlyphs">(mIU/10<tspan dy="-2.6" font-size="4.8">8</tspan><tspan dy="2.6"> platelets)</tspan></text>
<text x="30.70" y="27.00" font-size="6.6" fill="#231f20" textLength="25.1" lengthAdjust="spacingAndGlyphs">CD45.1/</text>
<text x="30.7" y="34.9" font-size="6.6" fill="#231f20">FVIII<tspan dy="-2.6" font-size="4.0">null</tspan></text>
<text x="71.90" y="38.00" font-size="6.4" fill="#231f20" textLength="23.2" lengthAdjust="spacingAndGlyphs">2bF8 LV</text>
<text x="10" y="66.9" font-size="6.5" fill="#231f20" textLength="35.3" lengthAdjust="spacingAndGlyphs">Sca-1<tspan dx="0.8" dy="-3.0" font-size="4.6">+</tspan><tspan dx="0.4" dy="3.0"> cells</tspan></text>
<text x="7.30" y="82.00" font-size="6.6" fill="#231f20" textLength="50.4" lengthAdjust="spacingAndGlyphs">(CD45.2+CD117</text>
<text x="14.80" y="89.20" font-size="6.6" fill="#231f20" textLength="36.0" lengthAdjust="spacingAndGlyphs">+CD4)-ADC</text>
<text x="71.90" y="81.70" font-size="6.6" fill="#231f20" textLength="50.2" lengthAdjust="spacingAndGlyphs">(CD45.2+CD117</text>
<text x="79.40" y="89.20" font-size="6.6" fill="#231f20" textLength="35.8" lengthAdjust="spacingAndGlyphs">+CD8)-ADC</text>
<text x="50.8" y="132.5" font-size="6.6" fill="#231f20" textLength="41" lengthAdjust="spacingAndGlyphs">CD45.2/FVIII<tspan dy="-2.6" font-size="4.0">null</tspan></text>
<g transform="translate(40.06,39.0) scale(1.14,1.02)"><path d="M0.3,3.4 L2.3,2.1 L2.9,-0.3 L3.9,1.9 L4.7,2.1 L6.9,0.9 L6.1,3.1 Q9.0,4.7 9.9,8.4 Q10.6,11.6 9.6,13.5 L2.0,13.5 L2.2,12.9 L3.2,12.5 Q2.3,10.4 2.6,8.4 L0.8,7.6 L2.0,6.9 Q1.4,5.2 0.3,3.4 Z" fill="#111"/><path d="M2.4,5.6 Q4.6,6.6 5.2,9.6 M6.4,9.8 Q7.6,11.4 7.0,12.8" fill="none" stroke="#555" stroke-width="0.45"/><circle cx="2.3" cy="3.4" r="0.35" fill="#777"/><path d="M9.4,13.2 Q12.5,13.4 12.6,10.0 Q12.7,6.0 13.4,4.0 Q13.8,2.8 14.5,2.1" fill="none" stroke="#2a2a2a" stroke-width="0.8" stroke-linecap="round"/></g>
<g transform="translate(52.0,108.9)"><path d="M0.3,3.4 L2.3,2.1 L2.9,-0.3 L3.9,1.9 L4.7,2.1 L6.9,0.9 L6.1,3.1 Q9.0,4.7 9.9,8.4 Q10.6,11.6 9.6,13.5 L2.0,13.5 L2.2,12.9 L3.2,12.5 Q2.3,10.4 2.6,8.4 L0.8,7.6 L2.0,6.9 Q1.4,5.2 0.3,3.4 Z" fill="#111"/><path d="M2.4,5.6 Q4.6,6.6 5.2,9.6 M6.4,9.8 Q7.6,11.4 7.0,12.8" fill="none" stroke="#555" stroke-width="0.45"/><circle cx="2.3" cy="3.4" r="0.35" fill="#777"/><path d="M9.4,13.2 Q12.5,13.4 12.6,10.0 Q12.7,6.0 13.4,4.0 Q13.8,2.8 14.5,2.1" fill="none" stroke="#2a2a2a" stroke-width="0.8" stroke-linecap="round"/></g>
<g transform="translate(77.2,109.4)"><path d="M0.3,3.4 L2.3,2.1 L2.9,-0.3 L3.9,1.9 L4.7,2.1 L6.9,0.9 L6.1,3.1 Q9.0,4.7 9.9,8.4 Q10.6,11.6 9.6,13.5 L2.0,13.5 L2.2,12.9 L3.2,12.5 Q2.3,10.4 2.6,8.4 L0.8,7.6 L2.0,6.9 Q1.4,5.2 0.3,3.4 Z" fill="#111"/><path d="M2.4,5.6 Q4.6,6.6 5.2,9.6 M6.4,9.8 Q7.6,11.4 7.0,12.8" fill="none" stroke="#555" stroke-width="0.45"/><circle cx="2.3" cy="3.4" r="0.35" fill="#777"/><path d="M9.4,13.2 Q12.5,13.4 12.6,10.0 Q12.7,6.0 13.4,4.0 Q13.8,2.8 14.5,2.1" fill="none" stroke="#2a2a2a" stroke-width="0.8" stroke-linecap="round"/></g>
<ellipse cx="65.3" cy="65.6" rx="14.3" ry="8.3" fill="#fff" stroke="#111" stroke-width="0.75"/>
<ellipse cx="65.4" cy="66.0" rx="12.7" ry="6.6" fill="none" stroke="#111" stroke-width="0.7"/>
<circle cx="65.6" cy="62.6" r="1.9" fill="#5a1f70" stroke="#2b2f90" stroke-width="0.6"/>
<circle cx="70.4" cy="64.8" r="1.9" fill="#5a1f70" stroke="#2b2f90" stroke-width="0.6"/>
<circle cx="61.8" cy="65.3" r="1.9" fill="#5a1f70" stroke="#2b2f90" stroke-width="0.6"/>
<circle cx="65.9" cy="67.2" r="1.9" fill="#5a1f70" stroke="#2b2f90" stroke-width="0.6"/>
<circle cx="72.3" cy="69.3" r="1.9" fill="#5a1f70" stroke="#2b2f90" stroke-width="0.6"/>
<circle cx="59.7" cy="69.0" r="1.9" fill="#5a1f70" stroke="#2b2f90" stroke-width="0.6"/>
<circle cx="63.4" cy="71.5" r="1.9" fill="#5a1f70" stroke="#2b2f90" stroke-width="0.6"/>
<circle cx="68.2" cy="71.9" r="1.9" fill="#5a1f70" stroke="#2b2f90" stroke-width="0.6"/>
<path d="M57.0,49.6 Q60.8,52.2 61.2,58.8" fill="none" stroke="#111" stroke-width="1.6" stroke-linecap="round"/>
<polygon points="59.2,58.0 63.6,58.0 61.5,62.2" fill="#111"/>
<path d="M74.0,50.4 Q70.6,52.8 70.4,58.8" fill="none" stroke="#111" stroke-width="1.6" stroke-linecap="round"/>
<polygon points="68.2,58.0 72.6,58.0 70.4,62.2" fill="#111"/>
<ellipse cx="73.9" cy="47.8" rx="1.3" ry="1.1" fill="#2a4590" stroke="#05050c" stroke-width="1.1"/>
<ellipse cx="75.5" cy="44.6" rx="1.3" ry="1.1" fill="#2a4590" stroke="#05050c" stroke-width="1.1"/>
<ellipse cx="78.3" cy="46.5" rx="1.3" ry="1.1" fill="#2a4590" stroke="#05050c" stroke-width="1.1"/>
<ellipse cx="79.9" cy="44.6" rx="1.3" ry="1.1" fill="#2a4590" stroke="#05050c" stroke-width="1.1"/>
<ellipse cx="81.5" cy="44.4" rx="1.3" ry="1.1" fill="#2a4590" stroke="#05050c" stroke-width="1.1"/>
<ellipse cx="80.8" cy="48.3" rx="1.3" ry="1.1" fill="#2a4590" stroke="#05050c" stroke-width="1.1"/>
<ellipse cx="82.7" cy="46.5" rx="1.3" ry="1.1" fill="#2a4590" stroke="#05050c" stroke-width="1.1"/>
<ellipse cx="85.7" cy="44.4" rx="1.3" ry="1.1" fill="#2a4590" stroke="#05050c" stroke-width="1.1"/>
<ellipse cx="86.8" cy="48.3" rx="1.3" ry="1.1" fill="#2a4590" stroke="#05050c" stroke-width="1.1"/>
<ellipse cx="88.5" cy="46.5" rx="1.3" ry="1.1" fill="#2a4590" stroke="#05050c" stroke-width="1.1"/>
<ellipse cx="84.3" cy="46.8" rx="1.3" ry="1.1" fill="#2a4590" stroke="#05050c" stroke-width="1.1"/>
<ellipse cx="77.2" cy="48.5" rx="1.3" ry="1.1" fill="#2a4590" stroke="#05050c" stroke-width="1.1"/>
<path d="M64.3,74 L64.3,88 Q64.3,95.5 59.2,99.2 Q55.6,101.8 55.6,105.2" fill="none" stroke="#a47ad4" stroke-width="0.85"/>
<polygon points="53.9,105.0 57.3,105.0 55.6,108.6" fill="#6a2aa0"/>
<path d="M68.7,74 L68.7,88 Q68.9,94.5 73.4,97.6 Q76.8,100.2 76.8,106.6" fill="none" stroke="#a47ad4" stroke-width="0.85"/>
<polygon points="75.1,106.4 78.5,106.4 76.8,110.0" fill="#6a2aa0"/>
<g><path d="M20.0,93.2 L24.0,98.2" fill="none" stroke="#7d8fb5" stroke-width="1.6"/><path d="M28.8,93.2 L24.9,98.2" fill="none" stroke="#7d8fb5" stroke-width="1.6"/><rect x="23.0" y="97.6" width="2.9" height="9.0" fill="#8094bb"/><line x1="24.45" y1="98.6" x2="24.45" y2="106.6" stroke="#c4d0e6" stroke-width="0.45"/><path d="M18.9,94.1 L20.4,96.0" fill="none" stroke="#6fa8dc" stroke-width="1.3"/><path d="M20.4,96.0 L22.7,98.8" fill="none" stroke="#d9534f" stroke-width="1.3"/><path d="M29.9,94.1 L28.4,96.0" fill="none" stroke="#6fa8dc" stroke-width="1.3"/><path d="M28.4,96.0 L26.2,98.7" fill="none" stroke="#d9534f" stroke-width="1.3"/><circle cx="31.9" cy="100.0" r="3.4" fill="#45a83e" stroke="#1d4a1d" stroke-width="0.6"/><path d="M30.6,98.6 q1.4,-0.8 2.4,0.4 q0.6,1.2 -0.6,2.2 q-1.2,0.6 -2.0,-0.4" fill="none" stroke="#1f5a1f" stroke-width="0.6"/><ellipse cx="41.6" cy="105.6" rx="5.0" ry="5.9" transform="rotate(-25 41.6 105.6)" fill="#7a7a7a"/><path d="M38.2,102.6 q1.5,-2 3,-0.5 q1.5,1.5 3,-0.5 M37.6,105.2 q2,-1.5 3.5,0 q1.5,1.5 3.5,-0.5 M38.4,107.8 q1.5,-1 3,0.5 q1.5,1 3,-0.5 M40.2,100.8 q1,2 0,4 q-1,2 0.5,4 M43.2,100.8 q1,2 0,4 q-1,2 0.5,4 M39.5,109.8 q1.5,0.8 3.5,-0.2 M36.8,103.8 q0.5,2.5 1.8,4.5 M45.5,102.5 q1,2.5 0.2,5.5" fill="none" stroke="#1a1a1a" stroke-width="0.65"/><path d="M36.2,94.9 Q41.2,98.6 38.0,102.8 Q38.6,98.8 36.2,94.9 Z" fill="#2f7fd0" stroke="#2f7fd0" stroke-width="0.4"/><path d="M38.6,102.2 Q36.4,106.2 30.8,106.2 Q35.6,104.8 38.6,102.2 Z" fill="#2f7fd0" stroke="#2f7fd0" stroke-width="0.4"/></g>
<g transform="translate(72.8,3.9)"><g><path d="M20.0,93.2 L24.0,98.2" fill="none" stroke="#7d8fb5" stroke-width="1.6"/><path d="M28.8,93.2 L24.9,98.2" fill="none" stroke="#7d8fb5" stroke-width="1.6"/><rect x="23.0" y="97.6" width="2.9" height="9.0" fill="#8094bb"/><line x1="24.45" y1="98.6" x2="24.45" y2="106.6" stroke="#c4d0e6" stroke-width="0.45"/><path d="M18.9,94.1 L20.4,96.0" fill="none" stroke="#6fa8dc" stroke-width="1.3"/><path d="M20.4,96.0 L22.7,98.8" fill="none" stroke="#d9534f" stroke-width="1.3"/><path d="M29.9,94.1 L28.4,96.0" fill="none" stroke="#6fa8dc" stroke-width="1.3"/><path d="M28.4,96.0 L26.2,98.7" fill="none" stroke="#d9534f" stroke-width="1.3"/><circle cx="31.9" cy="100.0" r="3.4" fill="#45a83e" stroke="#1d4a1d" stroke-width="0.6"/><path d="M30.6,98.6 q1.4,-0.8 2.4,0.4 q0.6,1.2 -0.6,2.2 q-1.2,0.6 -2.0,-0.4" fill="none" stroke="#1f5a1f" stroke-width="0.6"/><ellipse cx="41.6" cy="105.6" rx="5.0" ry="5.9" transform="rotate(-25 41.6 105.6)" fill="#7a7a7a"/><path d="M38.2,102.6 q1.5,-2 3,-0.5 q1.5,1.5 3,-0.5 M37.6,105.2 q2,-1.5 3.5,0 q1.5,1.5 3.5,-0.5 M38.4,107.8 q1.5,-1 3,0.5 q1.5,1 3,-0.5 M40.2,100.8 q1,2 0,4 q-1,2 0.5,4 M43.2,100.8 q1,2 0,4 q-1,2 0.5,4 M39.5,109.8 q1.5,0.8 3.5,-0.2 M36.8,103.8 q0.5,2.5 1.8,4.5 M45.5,102.5 q1,2.5 0.2,5.5" fill="none" stroke="#1a1a1a" stroke-width="0.65"/><path d="M36.2,94.9 Q41.2,98.6 38.0,102.8 Q38.6,98.8 36.2,94.9 Z" fill="#2f7fd0" stroke="#2f7fd0" stroke-width="0.4"/><path d="M38.6,102.2 Q36.4,106.2 30.8,106.2 Q35.6,104.8 38.6,102.2 Z" fill="#2f7fd0" stroke="#2f7fd0" stroke-width="0.4"/></g></g>
<path d="M28.6,108.3 Q33,114.5 46.5,116.0" fill="none" stroke="#3a62b0" stroke-width="0.8"/>
<polygon points="46.0,114.5 49.2,116.2 46.0,117.6" fill="#2a4fa0"/>
<path d="M94.6,96.5 Q93.5,91.3 88.5,91.3 Q83.0,91.5 82.8,106.0" fill="none" stroke="#3a62b0" stroke-width="0.8"/>
<polygon points="81.4,105.6 84.2,105.6 82.8,108.6" fill="#2a4fa0"/></svg></body></html>
